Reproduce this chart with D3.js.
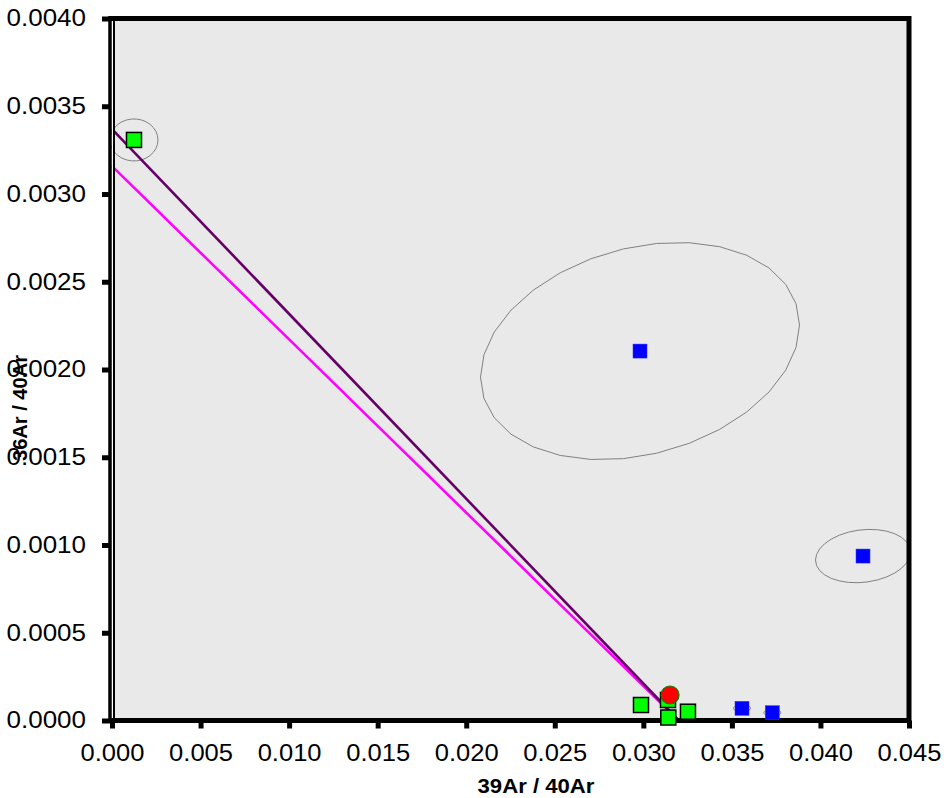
<!DOCTYPE html>
<html><head><meta charset="utf-8">
<script src="https://cdn.jsdelivr.net/npm/d3@7"></script>
<style>
body{margin:0;background:#fff;}
svg{display:block;font-family:"Liberation Sans",Arial,sans-serif;}
</style></head>
<body>
<svg id="c" width="944" height="798"></svg>
<script>
// ---- data ----
const xTicks = [0, 0.005, 0.010, 0.015, 0.020, 0.025, 0.030, 0.035, 0.040, 0.045];
const yTicks = [0, 0.0005, 0.0010, 0.0015, 0.0020, 0.0025, 0.0030, 0.0035, 0.0040];
const xTitle = "39Ar / 40Ar";
const yTitle = "36Ar / 40Ar";

// included (green) steps
const greenX = [0.001242, 0.029868, 0.031393, 0.031410, 0.032520];
const greenY = [0.003308, 0.0000883, 0.0001168, 0.0000171, 0.0000501];
// excluded (blue) steps
const blueX = [0.029812, 0.042403, 0.035571, 0.037282];
const blueY = [0.002105, 0.000937, 0.0000695, 0.0000444];
// plateau / mean point (red)
const redX = [0.031506];
const redY = [0.0001453];

// error ellipses: centre, sigma x, sigma y, correlation
const ellX   = [0.001242, 0.029812, 0.042403, 0.035571, 0.037282];
const ellY   = [0.003308, 0.002105, 0.000937, 0.0000695, 0.0000444];
const ellSX  = [0.001355, 0.009006, 0.002682, 0.00048, 0.00048];
const ellSY  = [0.0001197, 0.000619, 0.000152, 0.00002, 0.00002];
const ellRho = [0, 0.24, 0.15, 0, 0];

// isochron lines
const isoX = [0, 0.0320];
const purpleY = [0.003370, 0];
const magentaY = [0.003159, 0];

// ---- layout ----
const L = 112, R = 909, T = 18.5, B = 720.5;
const svg = d3.select("#c");
const x = d3.scaleLinear().domain([0, 0.045]).range([L, R]);
const y = d3.scaleLinear().domain([0, 0.004]).range([B, T]);

// plot area fill
svg.append("rect").attr("x", L).attr("y", T).attr("width", R - L).attr("height", B - T)
  .attr("fill", "#e9e9e9");

// ellipses
const ellLine = d3.line().x(d => x(d[0])).y(d => y(d[1]));
ellX.forEach((cx, i) => {
  const pts = [];
  const n = 30;
  const r = ellRho[i];
  for (let k = 0; k <= n; k++) {
    const t = 2 * Math.PI * k / n;
    pts.push([cx + ellSX[i] * Math.cos(t),
              ellY[i] + ellSY[i] * (r * Math.cos(t) + Math.sqrt(1 - r * r) * Math.sin(t))]);
  }
  svg.append("path").attr("d", ellLine(pts)).attr("fill", "none")
    .attr("stroke", "#808080").attr("stroke-width", 1);
});

// isochron lines
const lineGen = d3.line().x(d => x(d[0])).y(d => y(d[1]));
svg.append("path").attr("d", lineGen(isoX.map((v, i) => [v, magentaY[i]])))
  .attr("stroke", "#ff00ff").attr("stroke-width", 2.6).attr("fill", "none");
svg.append("path").attr("d", lineGen(isoX.map((v, i) => [v, purpleY[i]])))
  .attr("stroke", "#660066").attr("stroke-width", 2.6).attr("fill", "none");

// frame
svg.append("path")
  .attr("d", `M${L - 2},${T} H${R} V${B} H${L - 2}`)
  .attr("fill", "none").attr("stroke", "#000").attr("stroke-width", 5);
svg.append("line").attr("x1", L - 2).attr("x2", L - 2).attr("y1", T - 2.5).attr("y2", B + 2.5)
  .attr("stroke", "#000").attr("stroke-width", 3.5);
svg.append("line").attr("x1", L + 0.5).attr("x2", L + 0.5).attr("y1", T + 2.5).attr("y2", B - 2.5)
  .attr("stroke", "#fff").attr("stroke-width", 1);
svg.append("line").attr("x1", L + 2).attr("x2", L + 2).attr("y1", T + 2.5).attr("y2", B - 2.5)
  .attr("stroke", "#000").attr("stroke-width", 2);

// axes
const xAxis = d3.axisBottom(x).tickValues(xTicks).tickFormat(d3.format(".3f"))
  .tickSize(8).tickSizeOuter(0).tickPadding(16.5);
const yAxis = d3.axisLeft(y).tickValues(yTicks).tickFormat(d3.format(".4f"))
  .tickSize(8).tickSizeOuter(0).tickPadding(16);
const gx = svg.append("g").attr("transform", `translate(0,${B})`).call(xAxis);
const gy = svg.append("g").attr("transform", `translate(${L - 2},0)`).call(yAxis);
[gx, gy].forEach(g => {
  g.select(".domain").remove();
  g.selectAll(".tick line").attr("stroke", "#000").attr("stroke-width", 5);
  g.selectAll(".tick text").attr("fill", "#000").style("font-size", "23px")
    .style("font-family", "'Liberation Sans', Arial, sans-serif");
});
gx.selectAll(".tick text").each(function () {
  const w = this.getComputedTextLength();
  d3.select(this).attr("textLength", w * 1.11).attr("lengthAdjust", "spacingAndGlyphs");
});
gy.selectAll(".tick text").each(function () {
  const w = this.getComputedTextLength();
  d3.select(this).attr("textLength", w * 1.13).attr("lengthAdjust", "spacingAndGlyphs");
});

// markers
const sq = 15;
svg.append("g").selectAll("rect").data(blueX.map((v, i) => [v, blueY[i]])).join("rect")
  .attr("x", d => x(d[0]) - 7).attr("y", d => y(d[1]) - 7)
  .attr("width", 14).attr("height", 14).attr("fill", "#0000ff")
  .attr("stroke", "#3333ff").attr("stroke-width", 0.5);
svg.append("g").selectAll("rect").data(greenX.map((v, i) => [v, greenY[i]])).join("rect")
  .attr("x", d => x(d[0]) - sq / 2).attr("y", d => y(d[1]) - sq / 2)
  .attr("width", sq).attr("height", sq).attr("fill", "#00ff00")
  .attr("stroke", "#000").attr("stroke-width", 1.5);
svg.append("g").selectAll("circle").data(redX.map((v, i) => [v, redY[i]])).join("circle")
  .attr("cx", d => x(d[0])).attr("cy", d => y(d[1])).attr("r", 9)
  .attr("fill", "#ff0000").attr("stroke", "#008000").attr("stroke-width", 1.2);

// titles
svg.append("text").attr("x", 536).attr("y", 793).attr("text-anchor", "middle")
  .style("font-size", "21px").style("font-weight", "bold").attr("fill", "#000")
  .attr("textLength", 117).attr("lengthAdjust", "spacingAndGlyphs").text(xTitle);
svg.append("text").attr("transform", "translate(27,408) rotate(-90)").attr("text-anchor", "middle")
  .style("font-size", "20px").style("font-weight", "bold").attr("fill", "#000")
  .attr("textLength", 106).attr("lengthAdjust", "spacingAndGlyphs").text(yTitle);
</script>
</body></html>
